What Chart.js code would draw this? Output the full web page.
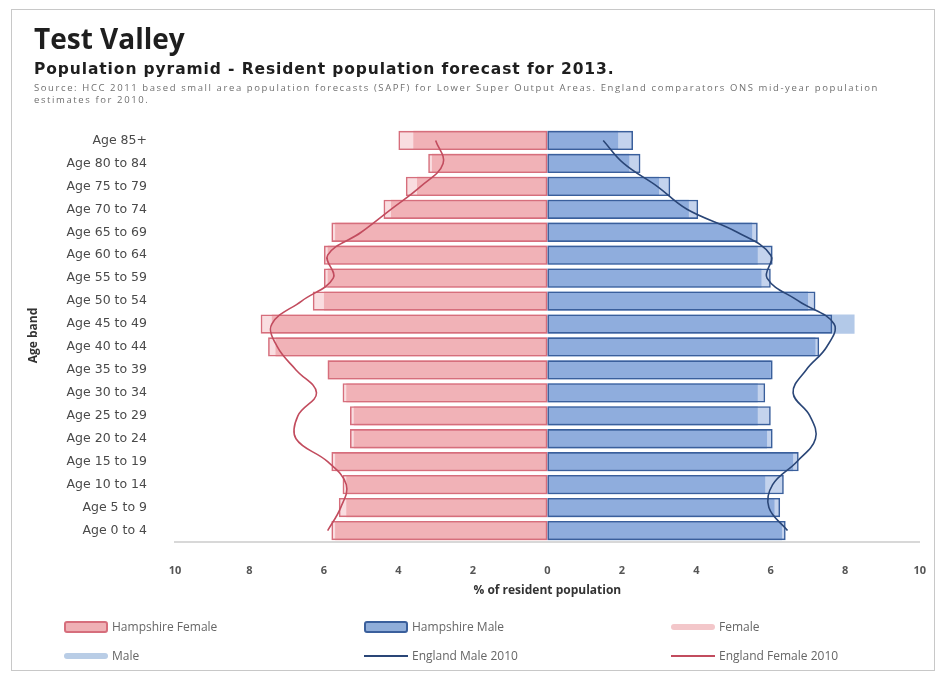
<!DOCTYPE html>
<html>
<head>
<meta charset="utf-8">
<script src="https://cdn.jsdelivr.net/npm/chart.js@4/dist/chart.umd.min.js"></script>
<style>
  body { margin: 0; background: #fff; font-family: "Open Sans", sans-serif; }
  #wrap { position: relative; width: 940px; height: 677px; overflow: hidden; }
  #pyramid { position: absolute; left: 0; top: 0; }
  .frame { position: absolute; left: 11px; top: 9px; width: 922px; height: 660px; border: 1px solid #c8c8c8; pointer-events: none; }
  .title { position: absolute; left: 34px; top: 19px; font-size: 28px; font-weight: 700; color: #1e1e1e; }
  .subtitle { position: absolute; left: 34px; top: 60px; font-family: "DejaVu Sans", sans-serif; font-size: 15.5px; letter-spacing: 0.9px; font-weight: 700; color: #1e1e1e; }
  .source { position: absolute; left: 34px; top: 82px; width: 900px; font-size: 9.5px; letter-spacing: 1.6px; line-height: 12px; color: #707070; white-space: nowrap; }
  .leg { position: absolute; font-size: 12px; color: #666; display: flex; align-items: center; }
  .leg span.sym { display: inline-block; width: 44px; height: 12px; margin-right: 4px; box-sizing: border-box; border-radius: 3px; }
  .leg span.ln { display: inline-block; width: 44px; height: 2px; margin-right: 4px; }
</style>
</head>
<body>
<div id="wrap">
  <canvas id="pyramid" width="940" height="677"></canvas>
  <div class="frame"></div>
  <div class="title">Test Valley</div>
  <div class="subtitle">Population pyramid - Resident population forecast for 2013.</div>
  <div class="source">Source: HCC 2011 based small area population forecasts (SAPF) for Lower Super Output Areas. England comparators ONS mid-year population<br>estimates for 2010.</div>
  <div id="legend"></div>
</div>
<script>
// age bands, top of the pyramid first
const ageBands = ['Age 85+', 'Age 80 to 84', 'Age 75 to 79', 'Age 70 to 74', 'Age 65 to 69', 'Age 60 to 64',
  'Age 55 to 59', 'Age 50 to 54', 'Age 45 to 49', 'Age 40 to 44', 'Age 35 to 39', 'Age 30 to 34',
  'Age 25 to 29', 'Age 20 to 24', 'Age 15 to 19', 'Age 10 to 14', 'Age 5 to 9', 'Age 0 to 4'];

// % of resident population
const hantsFemale = [4.0, 3.2, 3.8, 4.4, 5.8, 6.0, 6.0, 6.3, 7.7, 7.5, 5.9, 5.5, 5.3, 5.3, 5.8, 5.5, 5.6, 5.8];
const hantsMale   = [2.3, 2.5, 3.3, 4.05, 5.65, 6.05, 6.0, 7.2, 7.65, 7.3, 6.05, 5.85, 6.0, 6.05, 6.75, 6.35, 6.25, 6.4];
const tvFemale    = [3.6, 3.1, 3.5, 4.2, 5.7, 5.9, 5.9, 6.0, 7.4, 7.3, 5.9, 5.4, 5.2, 5.2, 5.7, 5.4, 5.4, 5.7];
const tvMale      = [1.9, 2.2, 3.0, 3.8, 5.5, 5.65, 5.75, 7.0, 8.25, 7.2, 6.0, 5.65, 5.65, 5.9, 6.6, 5.85, 6.1, 6.3];
const engMale     = [1.5, 2.05, 2.95, 3.75, 5.1, 6.0, 5.9, 6.75, 7.7, 7.5, 6.95, 6.6, 7.05, 7.2, 6.7, 6.05, 5.95, 6.45];
const engFemale   = [3.0, 2.8, 3.4, 4.2, 5.0, 5.9, 5.75, 6.6, 7.4, 7.25, 6.75, 6.2, 6.7, 6.75, 5.9, 5.4, 5.55, 5.9];

const xTicks = [-10, -8, -6, -4, -2, 0, 2, 4, 6, 8, 10];

// females go to the left
const neg = arr => arr.map(v => -v);

const colors = {
  hantsF: 'rgba(230, 120, 130, 0.25)', hantsFBorder: '#d66e7c',
  hantsM: 'rgba(60, 110, 195, 0.3)', hantsMBorder: '#3a5f9c',
  tvF: '#f5c6c8', tvM: '#b3c9e8',
  engM: '#2a4677', engF: '#c24c5e'
};

Chart.defaults.font.family = '"Open Sans", sans-serif';

new Chart(document.getElementById('pyramid'), {
  type: 'bar',
  data: {
    labels: ageBands,
    datasets: [
      { label: 'England Male 2010', type: 'line', data: engMale, borderColor: colors.engM, borderWidth: 1.6,
        pointRadius: 0, tension: 0.4, fill: false, order: 0 },
      { label: 'England Female 2010', type: 'line', data: neg(engFemale), borderColor: colors.engF, borderWidth: 1.6,
        pointRadius: 0, tension: 0.4, fill: false, order: 0 },
      { label: 'Hampshire Female', data: neg(hantsFemale), backgroundColor: colors.hantsF, borderColor: colors.hantsFBorder,
        borderWidth: 1.6, borderSkipped: false, grouped: false, order: 1 },
      { label: 'Hampshire Male', data: hantsMale, backgroundColor: colors.hantsM, borderColor: colors.hantsMBorder,
        borderWidth: 1.6, borderSkipped: false, grouped: false, order: 1 },
      { label: 'Female', data: neg(tvFemale), backgroundColor: colors.tvF, borderWidth: 0, grouped: false, order: 2 },
      { label: 'Male', data: tvMale, backgroundColor: colors.tvM, borderWidth: 0, grouped: false, order: 2 }
    ]
  },
  options: {
    indexAxis: 'y',
    responsive: false,
    animation: false,
    barPercentage: 0.84,
    categoryPercentage: 1,
    layout: { padding: { left: 22, top: 129, right: 18, bottom: 75 } },
    plugins: { legend: { display: false }, tooltip: { enabled: false } },
    scales: {
      x: {
        min: -10, max: 10,
        afterBuildTicks: s => { s.ticks = xTicks.map(v => ({ value: v })); },
        afterFit: s => { s.height = 60; },
        grid: { display: false },
        border: { display: true, color: '#d8d8d8', width: 2 },
        ticks: { padding: 14, color: '#555', font: { size: 11, weight: 'bold' }, callback: v => Math.abs(v) },
        title: { display: true, text: '% of resident population', color: '#333', font: { size: 12, weight: 'bold' } }
      },
      y: {
        afterFit: s => { s.width = 153; },
        grid: { display: false },
        border: { display: false },
        ticks: { padding: 20, color: '#4a4a4a', font: { size: 12.5, family: '"DejaVu Sans", sans-serif' } },
        title: { display: true, text: 'Age band', color: '#333', font: { size: 12, weight: 'bold' } }
      }
    }
  }
});

// legend laid out in three columns like the original
const legendItems = [
  { text: 'Hampshire Female', x: 64, y: 618, box: 'background:#efb0b5;border:2px solid #d66e7c' },
  { text: 'Hampshire Male', x: 364, y: 618, box: 'background:#8fadd9;border:2px solid #3a5f9c' },
  { text: 'Female', x: 671, y: 618, box: 'background:#f3c7ca;height:6px' },
  { text: 'Male', x: 64, y: 647, box: 'background:#b9cde6;height:6px' },
  { text: 'England Male 2010', x: 364, y: 647, line: colors.engM },
  { text: 'England Female 2010', x: 671, y: 647, line: colors.engF }
];
const legendDiv = document.getElementById('legend');
legendItems.forEach(it => {
  const d = document.createElement('div');
  d.className = 'leg';
  d.style.left = it.x + 'px';
  d.style.top = it.y + 'px';
  d.innerHTML = (it.line ? '<span class="ln" style="background:' + it.line + '"></span>'
                         : '<span class="sym" style="' + it.box + '"></span>') + it.text;
  legendDiv.appendChild(d);
});
</script>
</body>
</html>
